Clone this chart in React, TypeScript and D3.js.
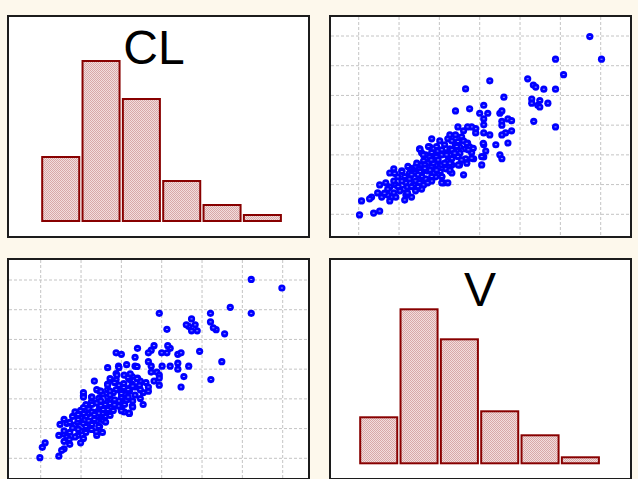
import * as d3 from 'd3'

// histogram bin edges and counts
const CL_EDGES = [1, 2, 3, 4, 5, 6, 7]
const V_EDGES = [10, 20, 30, 40, 50, 60, 70]
const CL_COUNTS = [32, 80, 61, 20, 8, 3]
const V_COUNTS = [23, 77, 62, 26, 14, 3]

// individual subjects: [V, CL]
const SUBJECTS: [number, number][] = [
  [67.3, 6.98], [70.2, 6.22], [58.8, 6.22], [60.8, 5.7], [51.9, 5.56], [53.3, 5.35],
  [53.9, 5.28], [55.9, 5.21], [58.8, 5.21], [42.5, 5.49], [36.5, 5.22], [46.0, 4.94],
  [52.9, 4.88], [52.9, 4.74], [54.9, 4.83], [54.4, 4.67], [54.9, 4.61], [56.9, 4.74],
  [53.4, 4.13], [58.8, 3.94], [41.0, 4.67], [34.0, 4.48], [37.5, 4.55], [40.0, 4.4],
  [42.0, 4.4], [41.0, 4.21], [41.0, 4.01], [45.0, 4.4], [45.5, 4.48], [47.0, 4.21],
  [47.9, 4.15], [45.5, 4.13], [45.5, 4.0], [47.9, 3.81], [46.4, 3.74], [45.5, 3.67],
  [47.0, 3.4], [44.0, 3.34], [45.0, 3.0], [45.5, 2.87], [42.5, 3.67], [41.0, 3.74],
  [39.0, 3.74], [39.0, 3.88], [38.0, 3.94], [37.0, 3.94], [34.6, 3.94], [36.0, 3.81],
  [41.0, 3.34], [41.5, 3.13], [41.0, 2.93], [40.5, 2.66], [38.5, 2.87], [36.5, 2.87],
  [35.0, 2.66], [36.0, 2.33], [38.0, 3.07], [37.5, 3.2],
  [32.1, 3.54], [32.6, 3.67], [34.0, 3.67], [35.5, 3.61], [36.0, 3.47], [37.0, 3.4],
  [37.5, 3.27], [36.5, 3.2], [35.0, 3.27], [34.0, 3.34], [33.6, 3.2], [32.6, 3.2],
  [33.1, 3.47], [30.1, 3.47], [28.1, 3.54], [27.6, 3.27], [25.1, 3.2], [25.6, 3.07],
  [26.6, 3.0], [27.6, 2.93], [28.6, 3.07], [29.6, 3.13], [30.6, 3.0], [31.6, 3.07],
  [32.6, 3.0], [33.1, 2.87], [32.1, 2.8], [33.1, 2.66], [31.6, 2.53], [32.6, 2.46],
  [33.1, 2.39], [30.6, 2.66], [29.1, 2.66], [28.1, 2.6], [27.1, 2.73], [26.1, 2.8],
  [25.6, 2.66], [24.1, 2.6], [25.1, 2.53], [23.1, 2.53], [22.6, 2.39], [24.1, 2.39],
  [25.6, 2.39], [27.1, 2.46], [28.6, 2.39], [29.1, 2.26], [28.1, 2.12], [26.6, 2.19],
  [25.1, 2.19], [24.1, 2.12], [22.6, 2.19], [21.7, 2.06], [23.6, 1.99], [25.1, 2.06],
  [26.1, 1.99], [27.1, 2.06], [30.6, 2.26], [31.1, 2.06], [32.1, 2.06], [30.6, 2.06],
  [18.7, 2.53], [17.7, 2.39], [20.7, 2.46], [19.7, 2.26], [18.7, 2.12], [16.7, 2.06],
  [15.2, 1.99], [17.7, 1.92], [17.2, 1.85], [19.2, 1.99], [20.7, 2.12], [21.2, 1.85],
  [22.1, 1.92], [20.2, 1.79], [18.7, 1.72], [18.2, 1.58], [17.2, 1.65], [15.7, 1.58],
  [14.7, 1.72], [13.2, 1.58], [12.7, 1.52], [10.7, 1.45], [17.7, 1.45], [19.2, 1.58],
  [21.7, 1.65], [23.1, 1.58], [24.1, 1.79], [25.6, 1.85], [22.1, 1.72], [10.2, 0.98],
  [13.7, 1.04], [15.2, 1.11],
  [25.2, 3.19], [27.3, 3.28], [26.0, 3.0], [28.1, 3.08], [29.3, 2.94], [30.6, 3.17],
  [31.8, 3.0], [33.1, 3.17], [34.3, 3.28], [35.1, 3.06], [36.8, 3.39], [37.2, 3.17],
  [38.0, 2.89], [36.8, 2.72], [34.7, 2.66], [32.6, 2.72], [28.5, 2.72], [26.4, 2.66],
  [24.4, 2.72], [22.7, 2.55], [25.2, 2.44], [27.7, 2.49], [30.2, 2.44], [32.6, 2.49],
  [30.6, 2.27], [28.1, 2.27], [25.6, 2.27], [23.1, 2.33], [20.7, 2.44], [40.5, 2.94],
  [38.4, 3.22], [40.9, 3.39],
  [29.3, 3.28], [31.3, 3.34], [34.6, 3.45], [29.7, 2.83], [31.3, 2.72], [28.0, 2.83],
  [26.4, 2.55], [29.3, 2.49], [24.7, 2.33], [21.4, 2.27], [19.8, 1.93], [23.1, 1.93],
  [24.7, 1.93], [21.4, 1.48], [16.4, 1.71], [34.6, 2.94], [35.5, 2.83], [33.8, 3.06],
  [18.9, 2.38], [22.2, 2.61],
]

const W = 638
const H = 479

const PANELS = {
  tl: { x: 8, y: 16, w: 301, h: 221 },
  tr: { x: 330, y: 16, w: 301, h: 221 },
  bl: { x: 8, y: 259, w: 301, h: 220 },
  br: { x: 330, y: 259, w: 301, h: 220 },
}

const BG = '#fdf8ec'
const BAR_STROKE = '#880000'
const GRID = '#c4c4c4'
const DOT = '#0000ff'

type Panel = { x: number; y: number; w: number; h: number }

function Frame({ p }: { p: Panel }) {
  return (
    <rect x={p.x} y={p.y} width={p.w} height={p.h} fill="#fff" stroke="#1c1c1c" strokeWidth={2} />
  )
}

function Histogram({
  p, edges, counts, x, y, label, labelX, labelY,
}: {
  p: Panel
  edges: number[]
  counts: number[]
  x: d3.ScaleLinear<number, number>
  y: d3.ScaleLinear<number, number>
  label: string
  labelX: number
  labelY: number
}) {
  return (
    <g>
      <Frame p={p} />
      {counts.map((c, i) => {
        const x0 = x(edges[i])
        const x1 = x(edges[i + 1])
        return (
          <rect
            key={i}
            x={x0 + 1.5}
            y={y(c)}
            width={x1 - x0 - 3.3}
            height={y(0) - y(c)}
            fill="url(#dither)"
            stroke={BAR_STROKE}
            strokeWidth={2}
          />
        )
      })}
      <text
        x={labelX}
        y={labelY}
        textAnchor="middle"
        fontFamily="'Liberation Sans', Arial, sans-serif"
        fontSize={48}
        fill="#000"
      >
        {label}
      </text>
    </g>
  )
}

function Scatter({
  p, x, y, xTicks, yTicks, pts,
}: {
  p: Panel
  x: d3.ScaleLinear<number, number>
  y: d3.ScaleLinear<number, number>
  xTicks: number[]
  yTicks: number[]
  pts: [number, number][]
}) {
  return (
    <g>
      <Frame p={p} />
      {xTicks.map((t) => (
        <line key={'x' + t} x1={x(t)} x2={x(t)} y1={p.y + 1} y2={p.y + p.h - 1}
          stroke={GRID} strokeDasharray="3,2" strokeWidth={1} />
      ))}
      {yTicks.map((t) => (
        <line key={'y' + t} x1={p.x + 1} x2={p.x + p.w - 1} y1={y(t)} y2={y(t)}
          stroke={GRID} strokeDasharray="3,2" strokeWidth={1} />
      ))}
      {pts.map(([a, b], i) => (
        <g key={i} transform={`translate(${x(a)},${y(b)})`}>
          <circle r={3.6} fill={DOT} />
          <rect x={-1} y={-0.4} width={2} height={0.8} fill="#fff" opacity={0.75} />
        </g>
      ))}
      <rect x={p.x} y={p.y} width={p.w} height={p.h} fill="none" stroke="#1c1c1c" strokeWidth={2} />
    </g>
  )
}

export default function App() {
  const { tl, tr, bl, br } = PANELS

  // CL on horizontal (left column), V on horizontal (right column)
  const clX = d3.scaleLinear().domain([1, 7]).range([bl.x + 32.7, bl.x + 274.7])
  const vX = d3.scaleLinear().domain([10, 70]).range([tr.x + 28.7, tr.x + 270.7])
  const clY = d3.scaleLinear().domain([1, 7]).range([tr.y + 198.3, tr.y + 20])
  const vY = d3.scaleLinear().domain([10, 70]).range([bl.y + 199.3, bl.y + 21])

  const countTL = d3.scaleLinear().domain([0, 100]).range([tl.y + 205, tl.y + 5])
  const countBR = d3.scaleLinear().domain([0, 100]).range([br.y + 204.3, br.y + 4.3])

  const flipped = SUBJECTS.map(([v, c]) => [c, v] as [number, number])

  return (
    <>
      <style>{`body{margin:0;background:${BG}}`}</style>
      <svg width={W} height={H} style={{ display: 'block', background: BG }}>
        <defs>
          <pattern id="dither" width={2} height={2} patternUnits="userSpaceOnUse">
            <rect width={2} height={2} fill="#f2dddd" />
            <rect width={1} height={1} fill="#d8a8a8" />
            <rect x={1} y={1} width={1} height={1} fill="#d8a8a8" />
          </pattern>
        </defs>
        <rect width={W} height={H} fill={BG} />
        <Histogram p={tl} edges={CL_EDGES} counts={CL_COUNTS} x={clX} y={countTL}
          label="CL" labelX={154} labelY={64} />
        <Scatter p={tr} x={vX} y={clY} xTicks={V_EDGES} yTicks={CL_EDGES} pts={SUBJECTS} />
        <Scatter p={bl} x={clX} y={vY} xTicks={CL_EDGES} yTicks={V_EDGES} pts={flipped} />
        <Histogram p={br} edges={V_EDGES} counts={V_COUNTS} x={vX} y={countBR}
          label="V" labelX={480} labelY={306} />
      </svg>
    </>
  )
}
